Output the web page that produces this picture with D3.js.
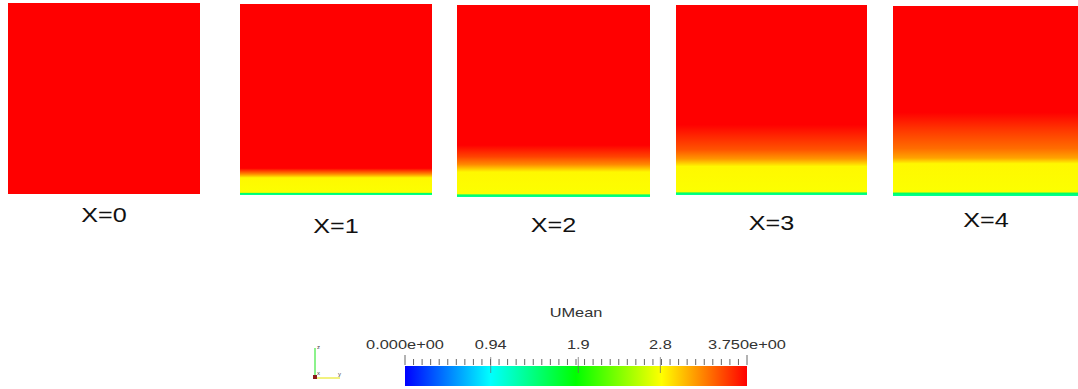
<!DOCTYPE html>
<html>
<head>
<meta charset="utf-8">
<script src="https://cdn.jsdelivr.net/npm/d3@7"></script>
<style>
  body { margin: 0; background: #fff; }
  svg { display: block; font-family: "Liberation Sans", Arial, sans-serif; }
</style>
</head>
<body>
<svg id="chart" width="1078" height="389"></svg>
<script>
// panel labels (streamwise station)
const panelLabels = ['X=0', 'X=1', 'X=2', 'X=3', 'X=4'];

// UMean profiles: [height from wall (fraction of panel), UMean]
const profileX0 = [[0, 3.75], [1, 3.75]];
const profileX1 = [[0, 1.3], [0.008, 1.5], [0.014, 2.8], [0.09, 2.84], [0.11, 3.25], [0.14, 3.75], [1, 3.75]];
const profileX2 = [[0, 1.3], [0.01, 1.5], [0.018, 2.8], [0.13, 2.84], [0.17, 3.25], [0.21, 3.5], [0.27, 3.75], [1, 3.75]];
const profileX3 = [[0, 1.3], [0.01, 1.5], [0.018, 2.8], [0.15, 2.84], [0.19, 3.2], [0.24, 3.45], [0.37, 3.75], [1, 3.75]];
const profileX4 = [[0, 1.3], [0.014, 1.5], [0.022, 2.8], [0.17, 2.84], [0.2, 3.15], [0.25, 3.35], [0.35, 3.55], [0.44, 3.75], [1, 3.75]];
const profiles = [profileX0, profileX1, profileX2, profileX3, profileX4];

// colour bar
const uMin = 0, uMax = 3.75;
const colorTicks = [0, 0.94, 1.9, 2.8, 3.75];
const colorTickLabels = ['0.000e+00', '0.94', '1.9', '2.8', '3.750e+00'];
const colorTitle = 'UMean';

// layout of the five slices (screen boxes)
const panelBoxes = [
  { x: 8, y: 3, w: 192, h: 191, ly: 222 },
  { x: 240, y: 4, w: 192, h: 191, ly: 233 },
  { x: 457, y: 5, w: 193, h: 192, ly: 232 },
  { x: 676, y: 5, w: 191, h: 190, ly: 230 },
  { x: 893, y: 6, w: 190, h: 190, ly: 227 }
];

// screenshot text is horizontally stretched
const stretch = 1.26;

const svg = d3.select('#chart');
const defs = svg.append('defs');

function stretchedText(parent, x, y, str, size, fill) {
  return parent.append('text')
    .attr('transform', 'translate(' + x + ',' + y + ') scale(' + stretch + ',1)')
    .attr('text-anchor', 'middle')
    .style('font-size', size)
    .style('fill', fill)
    .text(str);
}

// blue -> cyan -> green -> yellow -> red rainbow
const color = d3.scaleLinear()
  .domain([0, 0.25, 0.5, 0.75, 1].map(t => uMin + t * (uMax - uMin)))
  .range(['#0000ff', '#00ffff', '#00ff00', '#ffff00', '#ff0000'])
  .clamp(true);

panelBoxes.forEach((b, i) => {
  const y = d3.scaleLinear().domain([0, 1]).range([b.y + b.h, b.y]);
  const grad = defs.append('linearGradient')
    .attr('id', 'grad' + i)
    .attr('gradientUnits', 'userSpaceOnUse')
    .attr('x1', 0).attr('x2', 0)
    .attr('y1', y(0)).attr('y2', y(1));
  grad.selectAll('stop')
    .data(profiles[i])
    .enter()
    .append('stop')
    .attr('offset', d => d[0])
    .attr('stop-color', d => color(d[1]));

  svg.append('rect')
    .attr('x', b.x)
    .attr('y', b.y)
    .attr('width', b.w)
    .attr('height', b.h)
    .attr('fill', 'url(#grad' + i + ')');

  stretchedText(svg, b.x + b.w / 2 - (i === 4 ? 2 : 0), b.ly, panelLabels[i], '20px', '#111');
});

// colour legend
const barX0 = 405, barX1 = 747, barY = 366, barH = 20;
const xBar = d3.scaleLinear().domain([uMin, uMax]).range([barX0, barX1]);

const barGrad = defs.append('linearGradient').attr('id', 'barGrad');
barGrad.selectAll('stop')
  .data(color.domain())
  .enter()
  .append('stop')
  .attr('offset', d => (d - uMin) / (uMax - uMin))
  .attr('stop-color', d => color(d));

svg.append('rect')
  .attr('x', barX0)
  .attr('y', barY)
  .attr('width', barX1 - barX0)
  .attr('height', barH)
  .attr('fill', 'url(#barGrad)');

// minor ticks above the bar
const minorTicks = d3.range(0, 41).map(k => uMin + k * (uMax - uMin) / 40);
svg.append('g')
  .selectAll('line')
  .data(minorTicks)
  .enter()
  .append('line')
  .attr('x1', d => xBar(d))
  .attr('x2', d => xBar(d))
  .attr('y1', (d, k) => (k === 0 || k === 40) ? 355 : 359)
  .attr('y2', 365)
  .attr('stroke', '#666')
  .attr('stroke-width', 1);

// major ticks run into the bar
svg.append('g')
  .selectAll('line')
  .data(colorTicks.slice(1, -1))
  .enter()
  .append('line')
  .attr('x1', d => xBar(d))
  .attr('x2', d => xBar(d))
  .attr('y1', 357)
  .attr('y2', 373)
  .attr('stroke', '#666')
  .attr('stroke-opacity', 0.7)
  .attr('stroke-width', 1);

const tickLabels = svg.append('g');
colorTicks.forEach((d, k) => {
  stretchedText(tickLabels, xBar(d), 349, colorTickLabels[k], '13px', '#333');
});

stretchedText(svg, xBar((uMin + uMax) / 2), 317, colorTitle, '13px', '#333');

// orientation glyph
const glyph = svg.append('g').attr('transform', 'translate(315,378)');
glyph.append('line').attr('x1', 0).attr('y1', 0).attr('x2', 0).attr('y2', -30)
  .attr('stroke', '#66ee66').attr('stroke-width', 1.5);
glyph.append('line').attr('x1', 0).attr('y1', 0).attr('x2', 25).attr('y2', 0)
  .attr('stroke', '#eeee55').attr('stroke-width', 1.5);
glyph.append('rect').attr('x', -2).attr('y', -3).attr('width', 4).attr('height', 4)
  .attr('fill', '#8b1a1a');
glyph.append('text').attr('x', 2).attr('y', -29).style('font-size', '6px').style('fill', '#444').text('z');
glyph.append('text').attr('x', 23).attr('y', -2).style('font-size', '6px').style('fill', '#444').text('y');
glyph.append('text').attr('x', 2).attr('y', -3).style('font-size', '6px').style('fill', '#444').text('x');
</script>
</body>
</html>
